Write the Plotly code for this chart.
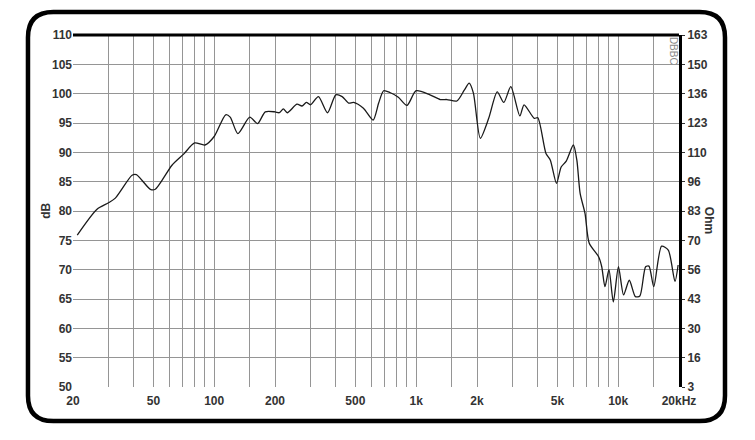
"""Frequency response chart (SPL vs frequency) with impedance scale on the right."""

import plotly.graph_objects as go

freq_hz = [
    21, 26.3, 30, 32.4, 39.2, 41.2, 48.3, 51.1, 61.8, 70.6, 80, 90, 100,
    114, 120, 131, 150, 164, 179, 200, 210, 220, 230, 257, 272, 286, 300,
    328, 364, 400, 430, 463, 490, 548, 612, 652, 690, 741, 816, 900, 1000,
    1170, 1316, 1420, 1590, 1730, 1830, 1920, 2077, 2285, 2518, 2715, 2940,
    3260, 3420, 3840, 4000, 4390, 4610, 4950, 5220, 5530, 6000, 6240, 6480,
    6850, 7190, 8000, 8290, 8600, 9000, 9460, 10030, 10630, 11350, 12170,
    12800, 13670, 14200, 15000, 16400, 17700, 19100, 19800,
]
spl_db = [
    75.9, 80.3, 81.4, 82.2, 86.1, 86.2, 83.7, 83.7, 87.8, 89.7, 91.6, 91.25, 92.7,
    96.4, 96.0, 93.2, 96.0, 94.9, 96.9, 96.9, 96.75, 97.4, 96.75, 98.2, 97.9, 98.5, 98.1,
    99.5, 96.75, 99.8, 99.5, 98.4, 98.5, 97.5, 95.5, 98.4, 100.5, 100.2, 99.4, 98.0, 100.5,
    99.8, 99.0, 99.0, 98.75, 100.6, 101.8, 100.1, 92.4, 95.8, 100.3, 98.5, 101.2,
    96.2, 98.1, 95.8, 95.9, 89.8, 88.7, 84.7, 87.5, 88.5, 91.25, 88.7, 83.0,
    79.6, 74.5, 72.2, 70.5, 67.1, 70.0, 64.5, 70.5, 65.7, 68.2, 65.4,
    65.5, 70.5, 70.6, 67.1, 74.0, 73.35, 68.0, 70.8,
]

# axis ticks
grid_freqs = [
    20, 30, 40, 50, 60, 70, 80, 90, 100, 150, 200, 300, 400, 500, 600, 700,
    800, 900, 1000, 1500, 2000, 3000, 4000, 5000, 6000, 7000, 8000, 9000,
    10000, 15000, 20000,
]
freq_labels = {20: "20", 50: "50", 100: "100", 200: "200", 500: "500",
               1000: "1k", 2000: "2k", 5000: "5k", 10000: "10k", 20000: "20kHz"}
db_ticks = [50, 55, 60, 65, 70, 75, 80, 85, 90, 95, 100, 105, 110]
ohm_labels = ["3", "16", "30", "43", "56", "70", "83", "96", "110", "123", "136", "150", "163"]

FONT = dict(family="Liberation Sans", size=12, color="#333333", weight="bold")
GRID = "#959595"

fig = go.Figure()
fig.add_trace(go.Scatter(
    x=freq_hz, y=spl_db, mode="lines",
    line=dict(color="#1a1a1a", width=1.3, shape="spline", smoothing=0.7),
    showlegend=False, hoverinfo="x+y",
))
# carrier for the right-hand impedance scale
fig.add_trace(go.Scatter(
    x=[grid_freqs[0]], y=[db_ticks[0]], yaxis="y2", mode="markers",
    marker=dict(opacity=0), showlegend=False, hoverinfo="skip",
))

# page body adds 8px on each side, so the figure is 16px smaller than the window
fig.update_layout(
    width=739, height=424,
    margin=dict(l=65, r=68, t=27, b=45),
    paper_bgcolor="white", plot_bgcolor="white",
    xaxis=dict(
        type="log", range=[1.30103, 4.30103],
        tickvals=grid_freqs,
        ticktext=[freq_labels.get(f, "") for f in grid_freqs],
        showgrid=True, gridcolor=GRID, gridwidth=1,
        ticks="", tickfont=FONT, ticklabelstandoff=5,
        zeroline=False, showline=False,
    ),
    yaxis=dict(
        range=[50, 110], tickvals=db_ticks,
        showgrid=True, gridcolor=GRID, gridwidth=1,
        ticks="", tickfont=FONT, zeroline=False, showline=False,
    ),
    yaxis2=dict(
        overlaying="y", side="right", range=[50, 110],
        tickvals=db_ticks, ticktext=ohm_labels,
        showgrid=False, zeroline=False,
        showline=True, linecolor="black", linewidth=3,
        ticks="outside", ticklen=3, tickcolor="#333333", tickfont=FONT,
    ),
    annotations=[
        dict(text="dB", xref="paper", yref="paper", x=-0.045, y=0.5,
             xanchor="center", yanchor="middle",
             textangle=-90, showarrow=False, font=FONT),
        dict(text="Ohm", xref="paper", yref="paper", x=1.05, y=0.474,
             xanchor="center", yanchor="middle",
             textangle=90, showarrow=False, font=FONT),
        dict(text="DBBC", xref="paper", yref="paper", x=0.99, y=0.955,
             xanchor="center", yanchor="middle",
             textangle=90, showarrow=False,
             font=dict(family="Liberation Sans", size=10, color="#8a8a8a")),
    ],
)

# thick top edge of the grid
fig.add_shape(type="line", xref="paper", yref="paper", x0=0, x1=1, y0=1, y1=1,
              line=dict(color="black", width=3))

# rounded outer frame
x0, x1, y0, y1 = -0.0743, 1.0759, -0.0966, 1.065
rx, ry = 0.042, 0.072
frame = (
    f"M {x0 + rx} {y1} L {x1 - rx} {y1} Q {x1} {y1} {x1} {y1 - ry} "
    f"L {x1} {y0 + ry} Q {x1} {y0} {x1 - rx} {y0} "
    f"L {x0 + rx} {y0} Q {x0} {y0} {x0} {y0 + ry} "
    f"L {x0} {y1 - ry} Q {x0} {y1} {x0 + rx} {y1} Z"
)
fig.add_shape(type="path", xref="paper", yref="paper", path=frame,
              line=dict(color="black", width=4.5))

fig.write_html("out.html")
